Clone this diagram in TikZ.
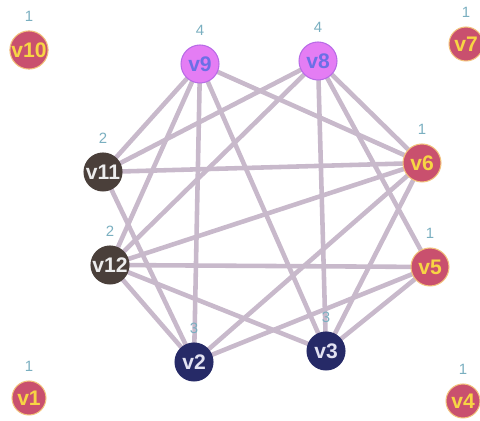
\documentclass[tikz,border=0pt]{standalone}
\usepackage{fontspec}
\setmainfont{Liberation Sans}
\definecolor{edgec}{HTML}{C8B9CB}
\definecolor{pinkf}{HTML}{E47DF4}
\definecolor{pinkd}{HTML}{B86BE6}
\definecolor{pinkt}{HTML}{6C6FE6}
\definecolor{brownf}{HTML}{4A3F3A}
\definecolor{brownt}{HTML}{EDEDED}
\definecolor{raspf}{HTML}{C9506E}
\definecolor{raspd}{HTML}{F2C27C}
\definecolor{raspt}{HTML}{F7D544}
\definecolor{navyf}{HTML}{262A67}
\definecolor{navyt}{HTML}{E2E2F2}
\definecolor{labc}{HTML}{7AAFC0}
\pgfdeclarelayer{background}
\pgfsetlayers{background,main}
\tikzset{
  x=0.02cm, y=-0.02cm,
  vtx/.style={circle, inner sep=0pt, minimum size=0.76cm, line width=0.6pt,
    font=\fontsize{12}{14}\selectfont\bfseries,
    label={[text=labc, font=\fontsize{8.5}{10}\selectfont, inner sep=0pt, yshift=5pt]above:#1}},
  pinkv/.style={vtx=#1, fill=pinkf, draw=pinkd, text=pinkt},
  brownv/.style={vtx=#1, fill=brownf, draw=brownf, text=brownt},
  raspv/.style={vtx=#1, fill=raspf, draw=raspd, text=raspt},
  smallv/.style={raspv=#1, minimum size=0.68cm},
  navyv/.style={vtx=#1, fill=navyf, draw=navyf, text=navyt},
  edge/.style={draw=edgec, line width=2.6pt}
}
\begin{document}
\begin{tikzpicture}
\useasboundingbox (0,0) rectangle (480,421);
\node[smallv=1] (v10) at (29,50) {v10};
\node[pinkv=4] (v9) at (200,64) {v9};
\node[pinkv=4] (v8) at (318,61) {v8};
\node[smallv=1] (v7) at (466,44) {v7};
\node[brownv=2] (v11) at (103,172) {v11};
\node[raspv=1] (v6) at (422,163) {v6};
\node[brownv=2] (v12) at (110,265) {v12};
\node[raspv=1] (v5) at (430,267) {v5};
\node[navyv=3] (v2) at (194,362) {v2};
\node[navyv=3] (v3) at (326,351) {v3};
\node[smallv=1] (v1) at (29,398) {v1};
\node[smallv=1] (v4) at (463,401) {v4};
\begin{pgfonlayer}{background}
\foreach \a/\b in {v9/v11, v9/v12, v9/v2, v9/v3, v9/v6,
                   v8/v11, v8/v12, v8/v3, v8/v6, v8/v5,
                   v11/v6, v11/v2,
                   v12/v5, v12/v6, v12/v3, v12/v2,
                   v6/v2, v6/v3, v5/v2, v5/v3}
  \draw[edge] (\a.center) -- (\b.center);
\end{pgfonlayer}
\end{tikzpicture}
\end{document}
